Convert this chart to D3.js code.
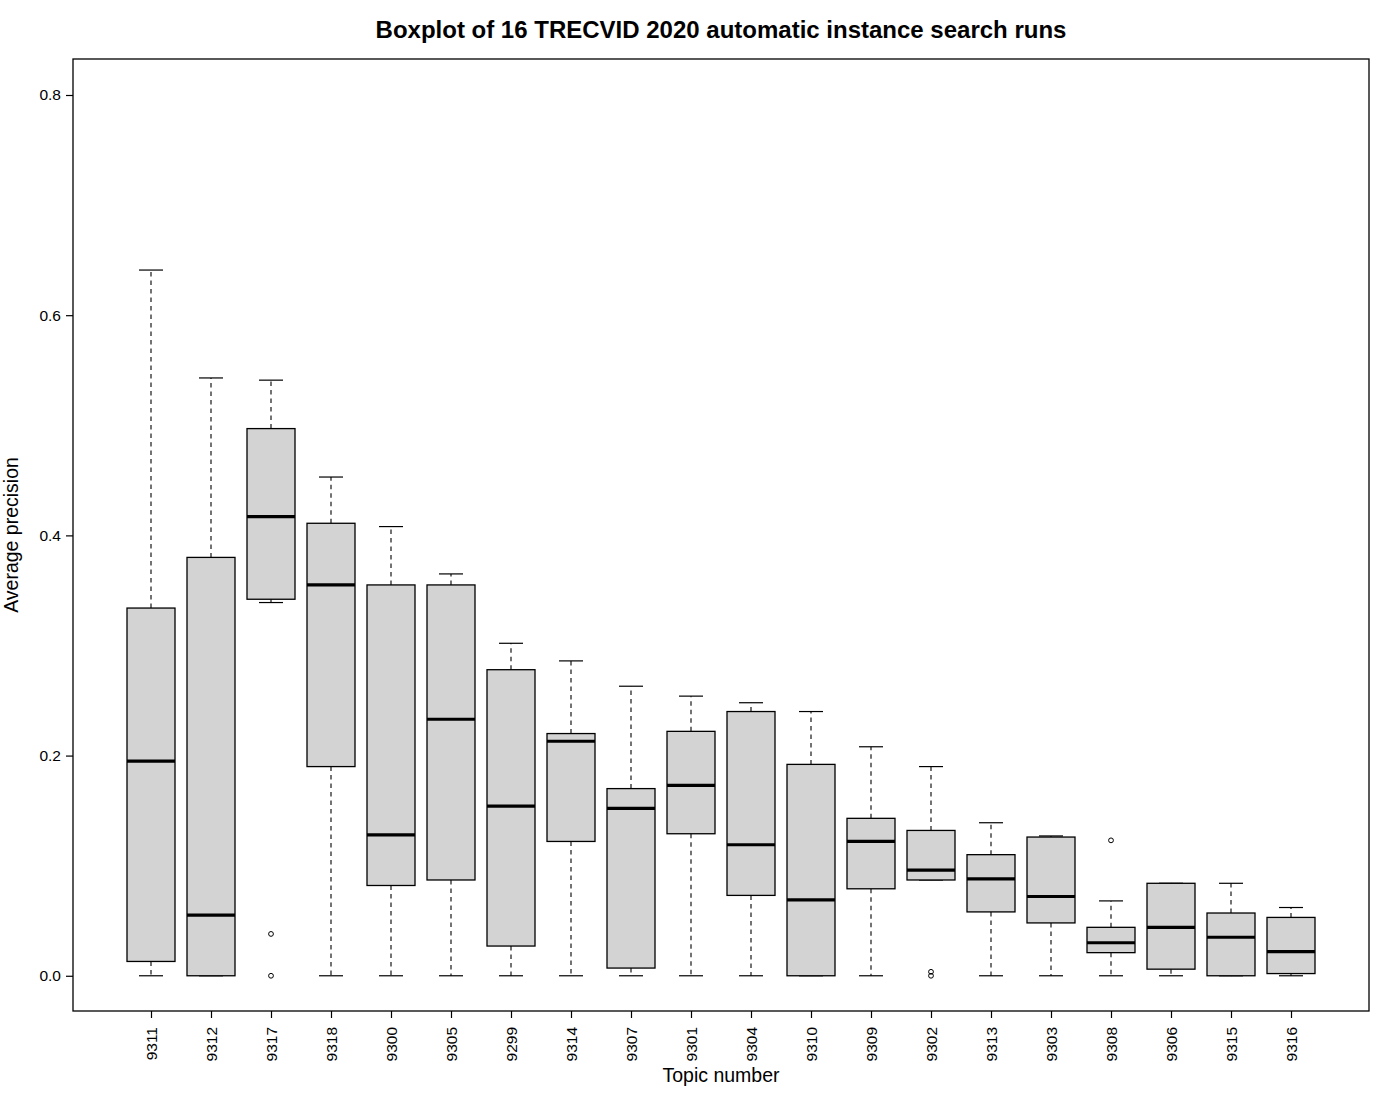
<!DOCTYPE html>
<html>
<head>
<meta charset="utf-8">
<script src="https://cdn.jsdelivr.net/npm/d3@7"></script>
<style>
  html, body { margin: 0; padding: 0; background: #fff; }
  svg { display: block; font-family: "Liberation Sans", Arial, sans-serif; }
</style>
</head>
<body>
<svg id="chart" width="1400" height="1100"></svg>
<script>
// ---- data ----
const topics = ["9311","9312","9317","9318","9300","9305","9299","9314","9307","9301",
                "9304","9310","9309","9302","9313","9303","9308","9306","9315","9316"];
const whiskerLow = [0.000,0.000,0.339,0.000,0.000,0.000,0.000,0.000,0.000,0.000,
                    0.000,0.000,0.000,0.087,0.000,0.000,0.000,0.000,0.000,0.000];
const q1 =         [0.013,0.000,0.342,0.190,0.082,0.087,0.027,0.122,0.007,0.129,
                    0.073,0.000,0.079,0.087,0.058,0.048,0.021,0.006,0.000,0.002];
const medians =    [0.195,0.055,0.417,0.355,0.128,0.233,0.154,0.213,0.152,0.173,
                    0.119,0.069,0.122,0.096,0.088,0.072,0.030,0.044,0.035,0.022];
const q3 =         [0.334,0.380,0.497,0.411,0.355,0.355,0.278,0.220,0.170,0.222,
                    0.240,0.192,0.143,0.132,0.110,0.126,0.044,0.084,0.057,0.053];
const whiskerHigh= [0.641,0.543,0.541,0.453,0.408,0.365,0.302,0.286,0.263,0.254,
                    0.248,0.240,0.208,0.190,0.139,0.127,0.068,0.084,0.084,0.062];
const outliers = [
  {topic: "9317", value: 0.038},
  {topic: "9317", value: 0.000},
  {topic: "9302", value: 0.0036},
  {topic: "9302", value: 0.000},
  {topic: "9308", value: 0.123}
];
const yTicks = [0, 0.2, 0.4, 0.6, 0.8];
const yTickLabels = ["0.0", "0.2", "0.4", "0.6", "0.8"];

const rows = topics.map((t, i) => ({
  topic: t, lo: whiskerLow[i], q1: q1[i], med: medians[i], q3: q3[i], hi: whiskerHigh[i]
}));

// ---- layout ----
const svg = d3.select("#chart");
const pL = 73, pR = 1369, pT = 59, pB = 1011;

const x = d3.scaleLinear().domain([-0.3, 21.3]).range([pL, pR]);
const pos = t => topics.indexOf(t) + 1;
const y = d3.scaleLinear().domain([-0.032, 0.8327]).range([pB, pT]);

const boxHalf = 0.4, capHalf = 0.2;

// title
svg.append("text")
  .attr("x", (pL + pR) / 2).attr("y", 38)
  .attr("text-anchor", "middle")
  .attr("font-size", 24).attr("font-weight", "bold")
  .text("Boxplot of 16 TRECVID 2020 automatic instance search runs");

const g = svg.append("g");

const wh = g.selectAll("g.box").data(rows).join("g").attr("class", "box");
// whiskers (dashed)
wh.append("line")
  .attr("x1", d => x(pos(d.topic))).attr("x2", d => x(pos(d.topic)))
  .attr("y1", d => y(d.q3)).attr("y2", d => y(d.hi))
  .attr("stroke", "#000").attr("stroke-width", 1.1).attr("stroke-dasharray", "4.5,4");
wh.append("line")
  .attr("x1", d => x(pos(d.topic))).attr("x2", d => x(pos(d.topic)))
  .attr("y1", d => y(d.q1)).attr("y2", d => y(d.lo))
  .attr("stroke", "#000").attr("stroke-width", 1.1).attr("stroke-dasharray", "4.5,4");
// caps
wh.append("line")
  .attr("x1", d => x(pos(d.topic) - capHalf)).attr("x2", d => x(pos(d.topic) + capHalf))
  .attr("y1", d => y(d.hi)).attr("y2", d => y(d.hi))
  .attr("stroke", "#000").attr("stroke-width", 1.2);
wh.append("line")
  .attr("x1", d => x(pos(d.topic) - capHalf)).attr("x2", d => x(pos(d.topic) + capHalf))
  .attr("y1", d => y(d.lo)).attr("y2", d => y(d.lo))
  .attr("stroke", "#000").attr("stroke-width", 1.2);
// boxes
wh.append("rect")
  .attr("x", d => x(pos(d.topic) - boxHalf))
  .attr("width", d => x(pos(d.topic) + boxHalf) - x(pos(d.topic) - boxHalf))
  .attr("y", d => y(d.q3))
  .attr("height", d => Math.max(0.5, y(d.q1) - y(d.q3)))
  .attr("fill", "#d3d3d3").attr("stroke", "#000").attr("stroke-width", 1.3);
// medians
wh.append("line")
  .attr("x1", d => x(pos(d.topic) - boxHalf)).attr("x2", d => x(pos(d.topic) + boxHalf))
  .attr("y1", d => y(d.med)).attr("y2", d => y(d.med))
  .attr("stroke", "#000").attr("stroke-width", 3.2);

// outliers
g.selectAll("circle.out").data(outliers).join("circle")
  .attr("class", "out")
  .attr("cx", d => x(pos(d.topic))).attr("cy", d => y(d.value))
  .attr("r", 2.4).attr("fill", "none").attr("stroke", "#000").attr("stroke-width", 1);

// frame
svg.append("rect")
  .attr("x", pL).attr("y", pT).attr("width", pR - pL).attr("height", pB - pT)
  .attr("fill", "none").attr("stroke", "#000").attr("stroke-width", 1.3);

// y axis
const yAxis = d3.axisLeft(y).tickValues(yTicks)
  .tickFormat((d, i) => yTickLabels[i]).tickSize(7).tickPadding(5);
const ya = svg.append("g").attr("transform", `translate(${pL},0)`).call(yAxis);
ya.select(".domain").remove();
ya.selectAll("line").attr("stroke", "#000").attr("stroke-width", 1.2);
ya.selectAll("text").attr("font-size", 15.5).attr("fill", "#000")
  .attr("font-family", "Liberation Sans, Arial, sans-serif");

// x axis
const xAxis = d3.axisBottom(x).tickValues(topics.map((t, i) => i + 1))
  .tickFormat(d => topics[d - 1]).tickSize(7).tickPadding(0);
const xa = svg.append("g").attr("transform", `translate(0,${pB})`).call(xAxis);
xa.select(".domain").remove();
xa.selectAll("line").attr("stroke", "#000").attr("stroke-width", 1.2);
xa.selectAll("text")
  .attr("font-size", 15.5).attr("fill", "#000")
  .attr("font-family", "Liberation Sans, Arial, sans-serif")
  .attr("text-anchor", "end")
  .attr("dy", "0.35em")
  .attr("transform", "translate(0,16) rotate(-90)")
  .attr("x", 0).attr("y", 0);

// axis titles
svg.append("text")
  .attr("x", (pL + pR) / 2).attr("y", 1082)
  .attr("text-anchor", "middle").attr("font-size", 19.5)
  .text("Topic number");
svg.append("text")
  .attr("transform", `translate(18,${(pT + pB) / 2}) rotate(-90)`)
  .attr("text-anchor", "middle").attr("font-size", 19.5)
  .text("Average precision");
</script>
</body>
</html>
